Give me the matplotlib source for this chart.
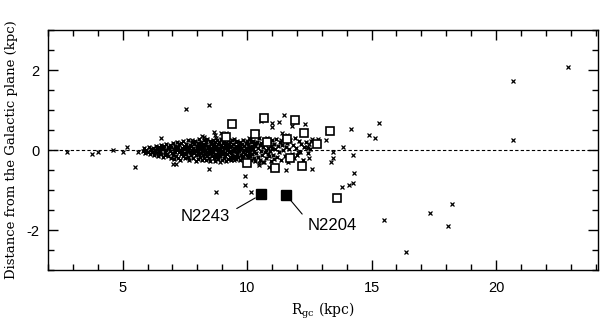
import matplotlib
matplotlib.use('Agg')
import matplotlib.pyplot as plt
from matplotlib.ticker import MultipleLocator

# open clusters: galactocentric radius (kpc) and height above the plane (kpc)
# dense disc population
cloud_r = [
    5.80, 5.86, 5.91, 5.95, 6.00, 6.04, 6.08, 6.12, 6.15, 6.19,
    6.22, 6.25, 6.28, 6.31, 6.34, 6.37, 6.40, 6.42, 6.45, 6.48,
    6.50, 6.53, 6.55, 6.58, 6.61, 6.63, 6.66, 6.69, 6.71, 6.74,
    6.76, 6.79, 6.81, 6.84, 6.86, 6.89, 6.91, 6.94, 6.96, 6.99,
    7.01, 7.03, 7.05, 7.07, 7.09, 7.11, 7.13, 7.15, 7.17, 7.19,
    7.21, 7.23, 7.25, 7.27, 7.29, 7.31, 7.33, 7.35, 7.37, 7.39,
    7.41, 7.43, 7.45, 7.47, 7.49, 7.51, 7.53, 7.55, 7.57, 7.59,
    7.61, 7.63, 7.65, 7.67, 7.69, 7.71, 7.73, 7.75, 7.77, 7.79,
    7.81, 7.83, 7.85, 7.87, 7.89, 7.91, 7.93, 7.95, 7.97, 7.99,
    8.01, 8.02, 8.04, 8.05, 8.07, 8.08, 8.10, 8.11, 8.13, 8.14,
    8.16, 8.17, 8.19, 8.20, 8.22, 8.23, 8.25, 8.26, 8.28, 8.29,
    8.31, 8.32, 8.34, 8.35, 8.37, 8.38, 8.40, 8.41, 8.43, 8.44,
    8.46, 8.47, 8.49, 8.50, 8.52, 8.53, 8.55, 8.56, 8.58, 8.59,
    8.61, 8.62, 8.64, 8.65, 8.67, 8.68, 8.70, 8.71, 8.73, 8.74,
    8.76, 8.77, 8.79, 8.80, 8.82, 8.83, 8.85, 8.86, 8.88, 8.89,
    8.91, 8.92, 8.94, 8.95, 8.97, 8.98, 9.00, 9.01, 9.03, 9.04,
    9.06, 9.07, 9.09, 9.10, 9.12, 9.13, 9.15, 9.16, 9.18, 9.19,
    9.21, 9.22, 9.24, 9.25, 9.27, 9.28, 9.30, 9.31, 9.33, 9.34,
    9.36, 9.37, 9.39, 9.40, 9.42, 9.43, 9.45, 9.46, 9.48, 9.49,
    9.51, 9.52, 9.54, 9.55, 9.57, 9.58, 9.60, 9.61, 9.63, 9.64,
    9.66, 9.68, 9.70, 9.71, 9.73, 9.75, 9.77, 9.78, 9.80, 9.82,
    9.84, 9.85, 9.87, 9.89, 9.91, 9.92, 9.94, 9.96, 9.98, 9.99,
    10.01, 10.03, 10.05, 10.06, 10.08, 10.10, 10.12, 10.13, 10.15, 10.17,
    10.19, 10.20, 10.22, 10.24, 10.26, 10.27, 10.29, 10.31, 10.33, 10.35,
    10.37, 10.40, 10.42, 10.45, 10.47, 10.50, 10.52, 10.55, 10.57, 10.60,
    10.62, 10.65, 10.67, 10.70, 10.72, 10.75, 10.77, 10.80, 10.82, 10.85,
    10.87, 10.90, 10.92, 10.95, 10.97, 11.00, 11.02, 11.05, 11.07, 11.10,
    11.13, 11.17, 11.21, 11.25, 11.29, 11.33, 11.37, 11.41, 11.45, 11.49,
    11.53, 11.57, 11.61, 11.66, 11.70, 11.74, 11.79, 11.83, 11.88, 11.92,
    11.97, 12.02, 12.07, 12.12, 12.18, 12.24, 12.30, 12.37, 12.44, 12.52,
    7.60, 7.90, 8.15, 8.45, 8.70, 8.95, 9.20, 9.45, 9.70, 9.95,
    7.75, 8.05, 8.30, 8.55, 8.85, 9.10, 9.35, 9.60, 9.85, 10.10,
]
cloud_z = [
    -0.02, 0.04, -0.07, 0.01, -0.04, 0.08, -0.10, 0.03, -0.01, -0.06,
    0.06, -0.12, 0.00, -0.05, 0.11, 0.03, -0.15, -0.08, 0.07, 0.01,
    -0.03, 0.13, -0.10, 0.05, -0.18, 0.02, 0.09, -0.06, -0.13, 0.15,
    0.00, -0.09, 0.07, -0.16, 0.04, 0.12, -0.03, -0.20, 0.08, -0.07,
    0.18, -0.12, 0.03, -0.22, 0.10, -0.04, 0.06, -0.15, 0.21, -0.01,
    0.08, -0.19, 0.14, -0.06, 0.01, -0.25, 0.17, -0.10, 0.05, -0.02,
    -0.14, 0.22, -0.07, 0.11, -0.21, 0.02, 0.16, -0.09, -0.03, 0.07,
    0.25, -0.17, 0.04, -0.24, 0.13, -0.05, 0.09, -0.12, 0.19, -0.01,
    -0.20, 0.06, 0.15, -0.08, 0.00, 0.23, -0.27, -0.13, 0.10, 0.03,
    -0.04, 0.18, -0.22, 0.09, -0.11, 0.27, 0.02, -0.17, 0.13, -0.07,
    0.21, -0.26, 0.05, -0.02, 0.16, -0.13, 0.08, -0.20, 0.24, -0.09,
    0.01, 0.12, -0.24, 0.19, -0.06, -0.15, 0.28, 0.04, -0.10, 0.10,
    -0.19, 0.07, 0.22, -0.03, -0.27, 0.14, -0.08, 0.17, 0.00, -0.14,
    0.25, -0.05, 0.09, -0.21, 0.03, 0.15, -0.12, -0.28, 0.20, 0.06,
    -0.09, 0.11, -0.18, 0.26, -0.01, -0.23, 0.16, 0.04, -0.13, 0.21,
    0.02, -0.16, 0.13, -0.06, 0.27, -0.25, 0.08, -0.11, 0.18, -0.02,
    -0.20, 0.23, 0.05, -0.14, 0.12, -0.07, -0.27, 0.17, 0.00, 0.09,
    -0.10, 0.26, -0.22, 0.03, 0.14, -0.04, 0.20, -0.17, 0.07, -0.26,
    0.11, -0.08, 0.24, -0.13, 0.01, 0.16, -0.19, 0.06, -0.03, 0.28,
    -0.15, 0.04, 0.19, -0.23, 0.10, -0.06, 0.22, -0.11, 0.02, -0.18,
    0.13, -0.02, -0.24, 0.08, 0.20, -0.12, 0.04, -0.19, 0.16, -0.05,
    0.25, -0.16, 0.01, 0.11, -0.09, -0.26, 0.18, 0.06, -0.13, 0.22,
    -0.03, 0.14, -0.21, 0.07, -0.08, 0.27, 0.00, -0.15, 0.19, -0.25,
    0.09, -0.11, 0.23, 0.03, -0.19, 0.15, -0.05, 0.10, -0.28, 0.17,
    -0.07, 0.20, -0.17, 0.05, 0.29, -0.24, 0.12, -0.02, 0.18, -0.13,
    0.08, -0.29, 0.24, -0.06, 0.14, 0.01, -0.20, 0.30, -0.10, 0.06,
    -0.16, 0.19, -0.03, 0.11, -0.27, 0.25, 0.04, -0.12, 0.16, -0.22,
    0.02, 0.27, -0.18, 0.09, -0.06, 0.21, -0.25, 0.13, -0.01, 0.32,
    -0.14, 0.07, 0.18, -0.30, 0.03, 0.24, -0.09, 0.12, -0.20, 0.29,
    0.05, -0.12, 0.22, -0.04, 0.15, -0.25, 0.08, 0.19, -0.08, 0.02,
    0.00, -0.03, 0.04, -0.01, 0.02, -0.04, 0.01, -0.02, 0.03, -0.01,
    -0.05, 0.06, -0.02, 0.05, -0.06, 0.04, -0.03, 0.07, -0.04, 0.05,
]

# scattered clusters away from the main band
field_r = [2.78, 3.78, 4.02, 4.63, 5.03, 5.19, 5.63, 5.51, 6.56, 7.53,
           8.45, 11.47, 11.27, 10.99, 10.99, 11.79, 12.31, 11.39, 8.97, 8.17,
           8.65, 10.54, 11.59, 10.38, 9.17, 8.73, 10.06, 10.78, 11.35, 8.93,
           9.46, 10.46, 10.66, 10.99, 11.55, 7.04, 7.16, 8.45, 7.77, 8.25,
           8.77, 9.90, 8.77, 10.14, 12.60, 12.47, 12.03, 12.43, 12.56, 12.60,
           12.84, 13.16, 13.44, 13.44, 13.36, 13.84, 14.17, 14.25, 14.29, 13.80,
           14.08, 14.25, 14.89, 15.13, 15.29, 15.49, 16.38, 17.34, 18.23, 18.07,
           20.68, 20.68, 22.90, 12.50, 12.40, 10.86, 10.46, 9.90]
field_z = [-0.05, -0.10, -0.05, 0.00, -0.05, 0.08, -0.05, -0.43, 0.30, 1.03,
           1.13, 0.88, 0.70, 0.68, 0.58, 0.60, 0.65, 0.43, 0.43, 0.35,
           0.45, 0.73, 0.38, 0.45, 0.42, 0.38, 0.30, 0.25, 0.25, -0.30,
           -0.25, -0.33, -0.30, -0.42, -0.50, -0.35, -0.35, -0.48, 0.25, 0.33,
           0.30, -0.65, -1.05, -1.05, -0.47, -0.20, -0.05, 0.05, 0.23, 0.28,
           0.28, 0.25, -0.05, -0.20, -0.30, 0.08, 0.53, -0.12, -0.57, -0.93,
           -0.87, -0.83, 0.37, 0.30, 0.68, -1.75, -2.55, -1.58, -1.35, -1.90,
           1.72, 0.25, 2.08, 0.15, 0.08, -0.42, -0.37, -0.88]

# clusters shown with open squares
open_r = [9.38, 10.66, 11.91, 12.27, 13.32, 12.80, 11.59, 10.78, 10.30, 9.17,
          9.98, 11.11, 12.19, 11.71, 13.60]
open_z = [0.65, 0.80, 0.75, 0.43, 0.48, 0.15, 0.28, 0.20, 0.40, 0.33,
          -0.33, -0.45, -0.40, -0.20, -1.20]

# the two labelled clusters (filled squares)
named = ['N2243', 'N2204']
named_r = [10.57, 11.58]
named_z = [-1.11, -1.13]
label_offset = [(-40, -16), (33, -22)]   # points
label_relpos = [(1.0, 0.8), (0.0, 0.85)]

plt.rcParams['font.family'] = ['Liberation Sans', 'DejaVu Sans']
plt.rcParams['mathtext.fontset'] = 'dejavuserif'
plt.rcParams['axes.unicode_minus'] = False

fig = plt.figure(figsize=(6, 3.2), dpi=100)
ax = fig.add_axes([0.08, 0.156, 0.9167, 0.75])

ax.axhline(0, color='black', lw=0.8, ls=(0, (3, 2)), zorder=1)

ax.plot(cloud_r, cloud_z, 'x', color='black', ms=3.5, mew=1.0, zorder=2)
ax.plot(field_r, field_z, 'x', color='black', ms=3.2, mew=0.9, zorder=2)
ax.plot(open_r, open_z, 's', mfc='white', mec='black', ms=5.6, mew=1.2, zorder=3)
ax.plot(named_r, named_z, 's', color='black', ms=6.5, zorder=3)

for name, r, z, off, rel in zip(named, named_r, named_z, label_offset, label_relpos):
    ax.annotate(name, xy=(r, z), xytext=off, textcoords='offset points',
                ha='center', va='center', fontsize=12,
                arrowprops=dict(arrowstyle='-', lw=0.8, color='black',
                                shrinkA=3, shrinkB=5, relpos=rel))

ax.set_xlim(2, 24.1)
ax.set_ylim(-3, 3)
ax.xaxis.set_major_locator(MultipleLocator(5))
ax.xaxis.set_minor_locator(MultipleLocator(1))
ax.yaxis.set_major_locator(MultipleLocator(2))
ax.yaxis.set_minor_locator(MultipleLocator(0.5))
ax.tick_params(which='both', direction='in', top=True, right=True,
               width=1.0, labelsize=10.5)
ax.tick_params(which='major', length=7)
ax.tick_params(which='minor', length=4)
ax.tick_params(axis='x', pad=8)
ax.tick_params(axis='y', pad=6)
for s in ax.spines.values():
    s.set_linewidth(1.0)

ax.set_xlabel(r'R$_{\rm gc}$ (kpc)', family='DejaVu Serif', fontsize=10, labelpad=4)
ax.set_ylabel('Distance from the Galactic plane (kpc)', family='DejaVu Serif',
              fontsize=9.5, labelpad=6)

fig.savefig('out.png', dpi=100)
